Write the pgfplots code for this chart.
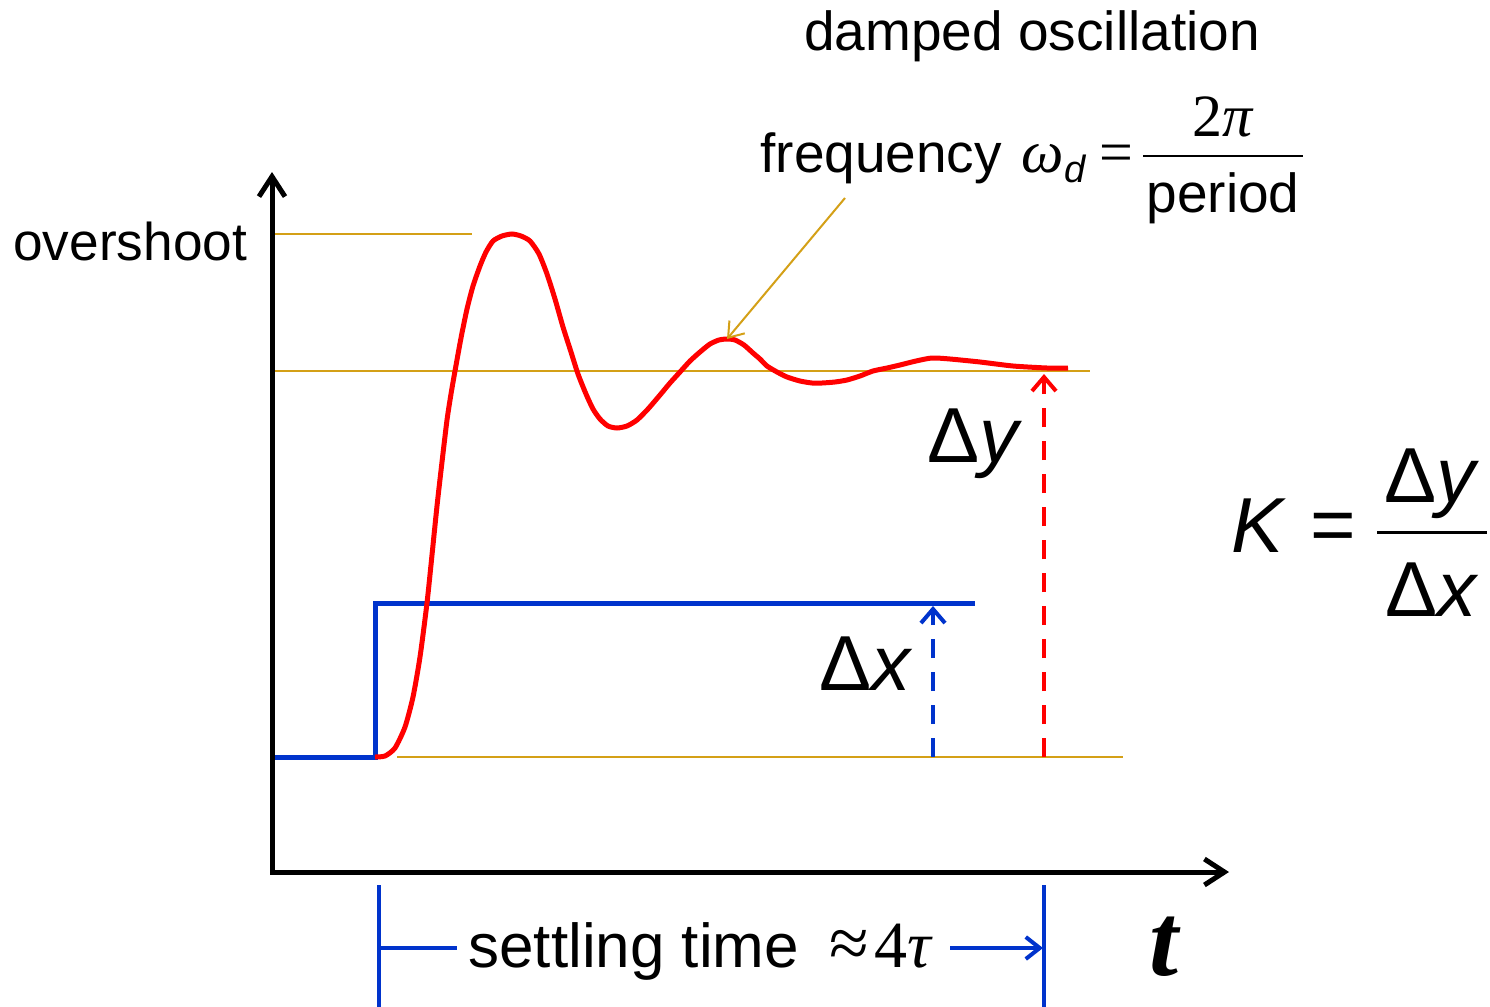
\documentclass[border=0pt]{standalone}
\usepackage{fontspec}
\setmainfont{Liberation Sans}
\newfontfamily\tms{Liberation Serif}
\usepackage{pgfplots}
\pgfplotsset{compat=1.18}
\usetikzlibrary{arrows.meta}
\definecolor{gold}{RGB}{212,160,23}
\definecolor{myblue}{RGB}{0,51,204}
\definecolor{myred}{RGB}{255,0,0}
\begin{document}
\begin{tikzpicture}
\begin{axis}[
  width=745pt, height=503.5pt, scale only axis,
  xmin=0, xmax=1490, ymin=0, ymax=1007, y dir=reverse,
  hide axis, clip=false,
]
% reference lines
\addplot[gold, line width=1pt] coordinates {(272,234) (472,234)};
\addplot[gold, line width=1pt] coordinates {(272,371) (1090,371)};
\addplot[gold, line width=1pt] coordinates {(397,757) (1123,757)};
% input step
\addplot[myblue, line width=2.5pt, line join=miter] coordinates {(272,757) (375,757) (375,603) (975,603)};
% response
\addplot[myred, line width=2.5pt, smooth, tension=0.4] coordinates {
(375,757) (385,756) (395,748) (405,727) (413,697) (420,657) (427,603)
(432,555) (437,506) (442,462) (447,420) (451,394) (455,371) (461,338)
(467,309) (473,286) (480,266) (486,252) (493,241) (502,236) (512,234)
(521,236) (530,241) (539,254) (547,274) (555,299) (563,327) (571,352)
(578,374) (586,394) (593,409) (600,419) (608,426) (617,428) (627,426)
(637,420) (648,409) (660,395) (670,383) (680,372) (690,361) (700,352)
(710,344) (719,340) (727,339) (735,340) (744,345) (753,353) (760,359)
(767,366) (777,372) (787,377) (800,381) (812,383) (822,383) (835,382)
(847,380) (860,376) (873,371) (887,368) (900,365) (916,361) (932,358)
(950,359) (980,362) (1013,366) (1047,368) (1068,368)};
% axes
\draw[black, line width=2.5pt, line join=miter, {Straight Barb[length=10pt,width=13pt]}-{Straight Barb[length=10pt,width=13pt]}] (272,172) -- (272,872) -- (1229,872);
% dashed arrows
\draw[myblue, line width=2pt, dash pattern=on 9.5pt off 7pt, -{Straight Barb[length=7pt,width=12pt]}] (933,757) -- (933,606);
\draw[myred, line width=2pt, dash pattern=on 9.5pt off 7pt, -{Straight Barb[length=7pt,width=12pt]}] (1044,757) -- (1044,374);
% annotation arrow
\draw[gold, line width=1pt, -{Straight Barb[length=7pt,width=10pt]}] (845,198) -- (727,339);
% settling time
\draw[myblue, line width=1.6pt] (379,885) -- (379,1007);
\draw[myblue, line width=1.6pt] (1044,885) -- (1044,1007);
\draw[myblue, line width=2pt] (379,948) -- (457,948);
\draw[myblue, line width=2pt, -{Straight Barb[length=7pt,width=11pt]}] (950,948) -- (1043,948);
% texts
\node[anchor=base west, inner sep=0, font=\fontsize{26.6}{30}\selectfont] at (13,260) {overshoot};
\node[anchor=base west, inner sep=0, font=\fontsize{27.5}{30}\selectfont] at (804,50) {damped oscillation};
\node[anchor=base west, inner sep=0, font=\fontsize{27.5}{30}\selectfont] at (760,172) {frequency};
\node[anchor=base west, inner sep=0, font=\fontsize{30}{32}\selectfont\tms\itshape] at (1021,172) {ω};
\node[anchor=base west, inner sep=0, font=\fontsize{19}{20}\selectfont\itshape] at (1064,182) {d};
\node[anchor=base west, inner sep=0, font=\fontsize{30}{32}\selectfont\tms] at (1099,172) {=};
\node[anchor=base, inner sep=0, font=\fontsize{30}{32}\selectfont\tms] at (1223,136) {2\textit{π}};
\draw[black, line width=1.2pt] (1143,156) -- (1303,156);
\node[anchor=base, inner sep=0, font=\fontsize{27.5}{30}\selectfont] at (1223,212) {period};
% delta labels
\node[anchor=base west, inner sep=0, font=\fontsize{39}{42}\selectfont] at (927,462) {Δ\textit{y}};
\node[anchor=base west, inner sep=0, font=\fontsize{39}{42}\selectfont] at (819,690) {Δ\textit{x}};
% K formula
\node[anchor=base west, inner sep=0, font=\fontsize{39}{42}\selectfont\itshape] at (1231,552) {K};
\node[anchor=center, inner sep=0, font=\fontsize{39}{42}\selectfont] at (1333,532) {=};
\draw[black, line width=1.5pt] (1377,532) -- (1487,532);
\node[anchor=base, inner sep=0, font=\fontsize{39}{42}\selectfont] at (1432,502) {Δ\textit{y}};
\node[anchor=base, inner sep=0, font=\fontsize{39}{42}\selectfont] at (1432,616) {Δ\textit{x}};
% t label
\node[anchor=base west, inner sep=0, font=\fontsize{52}{56}\selectfont\tms\bfseries\itshape] at (1149,975) {t};
% settling label
\node[anchor=base west, inner sep=0, font=\fontsize{31}{34}\selectfont] at (468,967) {settling time};
\node[anchor=base west, inner sep=0, font=\fontsize{36}{38}\selectfont\tms] at (829,967) {≈};
\node[anchor=base west, inner sep=0, font=\fontsize{33}{36}\selectfont\tms] at (874,967) {4\textit{τ}};
\end{axis}
\pgfresetboundingbox
\path[use as bounding box] (0,0) rectangle (745pt,503.5pt);
\end{tikzpicture}
\end{document}
